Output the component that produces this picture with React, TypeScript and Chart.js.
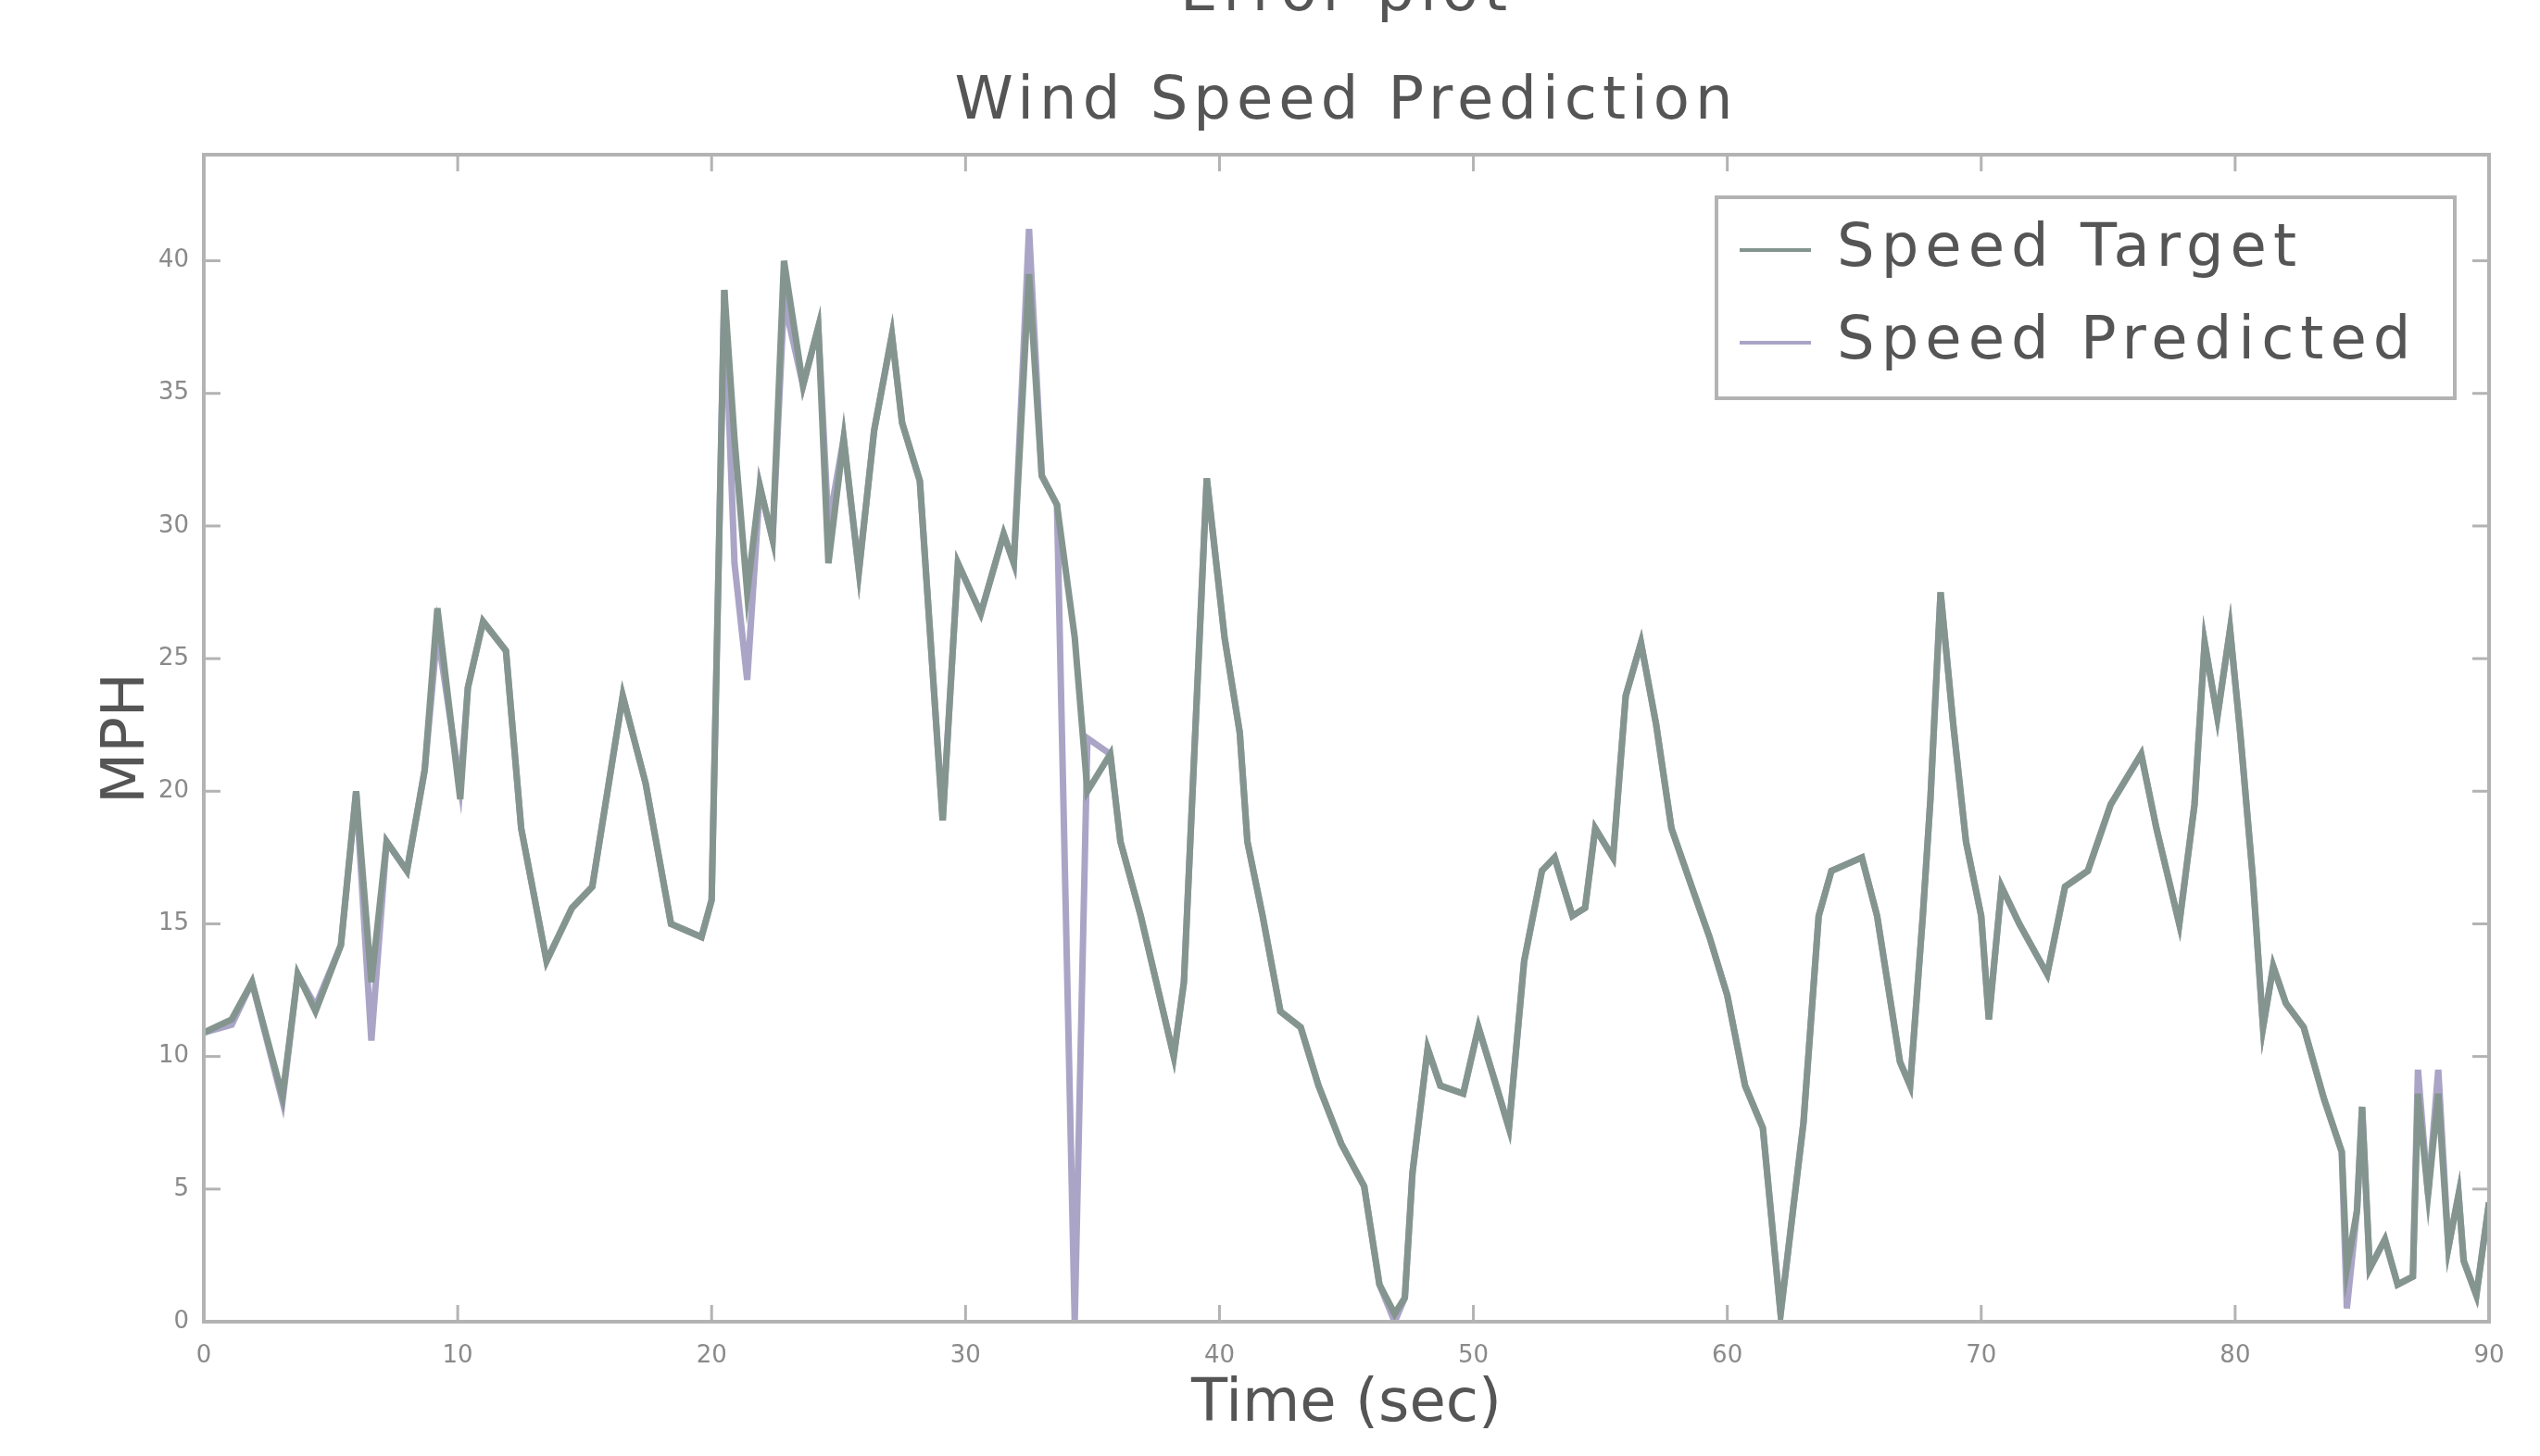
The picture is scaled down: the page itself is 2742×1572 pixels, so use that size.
import React, { useEffect, useRef } from "react";
import { Chart, registerables } from "chart.js";

Chart.register(...registerables);

// ---- data ----
const TIME = [
  0, 1.1, 1.9, 3.1, 3.7, 4.4, 5.4, 6.0, 6.6, 7.2, 8.0, 8.7, 9.2, 10.1, 10.4, 11.0, 11.9, 12.5, 13.5, 14.5,
  15.3, 16.5, 17.4, 18.4, 19.6, 20.0, 20.5, 20.9, 21.4, 21.9, 22.4, 22.85, 23.6, 24.2, 24.6, 25.2, 25.8, 26.4, 27.1, 27.5,
  28.2, 29.1, 29.7, 30.6, 31.5, 31.9, 32.5, 33.0, 33.6, 34.3, 34.8, 35.7, 36.1, 36.9, 38.2, 38.6, 39.5, 40.2, 40.8, 41.1,
  41.7, 42.4, 43.2, 43.9, 44.8, 45.7, 46.3, 46.9, 47.3, 47.6, 48.2, 48.7, 49.6, 50.2, 50.9, 51.4, 52.0, 52.7, 53.2, 53.9,
  54.4, 54.8, 55.5, 56.0, 56.6, 57.2, 57.8, 58.6, 59.3, 60.0, 60.7, 61.4, 62.1, 63.0, 63.6, 64.1, 65.3, 65.9, 66.8, 67.2,
  67.7, 68.0, 68.4, 68.9, 69.4, 70.0, 70.3, 70.8, 71.5, 72.6, 73.3, 74.2, 75.1, 76.3, 76.9, 77.8, 78.4, 78.8, 79.3, 79.8,
  80.2, 80.7, 81.1, 81.5, 82.0, 82.7, 83.5, 84.2, 84.4, 84.8, 85.0, 85.3, 85.9, 86.4, 87.0, 87.2, 87.6, 88.0, 88.4, 88.8,
  89.0, 89.5, 90.0,
];

const SPEED_TARGET = [
  10.9, 11.4, 12.8, 8.5, 13.1, 11.7, 14.2, 20.0, 12.8, 18.1, 17.0, 20.8, 26.9, 19.7, 23.9, 26.4, 25.3, 18.6, 13.6, 15.6,
  16.4, 23.6, 20.3, 15.0, 14.5, 15.9, 38.9, 33.3, 27.5, 31.5, 29.5, 40.0, 35.3, 37.5, 28.6, 33.3, 28.3, 33.6, 37.2, 33.9,
  31.7, 18.9, 28.6, 26.7, 29.7, 28.6, 39.5, 31.9, 30.8, 25.8, 20.0, 21.4, 18.1, 15.3, 10.0, 12.8, 31.8, 25.8, 22.2, 18.1,
  15.3, 11.7, 11.1, 8.9, 6.7, 5.1, 1.4, 0.3, 0.9, 5.6, 10.3, 8.9, 8.6, 11.1, 8.9, 7.3, 13.6, 17.0, 17.5, 15.3,
  15.6, 18.6, 17.5, 23.6, 25.6, 22.5, 18.6, 16.4, 14.5, 12.3, 8.9, 7.3, 0.3, 7.5, 15.3, 17.0, 17.5, 15.3, 9.8, 8.9,
  15.3, 19.7, 27.5, 22.5, 18.1, 15.3, 11.4, 16.4, 15.0, 13.1, 16.4, 17.0, 19.5, 21.4, 18.6, 15.0, 19.5, 25.6, 22.8, 26.1,
  22.2, 16.7, 11.1, 13.4, 12.0, 11.1, 8.4, 6.4, 2.0, 4.2, 8.1, 2.0, 3.1, 1.4, 1.7, 8.6, 4.8, 8.6, 2.8, 4.8,
  2.3, 1.0, 4.5,
];

const SPEED_PREDICTED = [
  10.9, 11.2, 12.8, 8.3, 13.1, 11.9, 14.2, 20.0, 10.6, 18.1, 17.0, 20.8, 26.0, 20.2, 23.9, 26.4, 25.3, 18.6, 13.6, 15.6,
  16.4, 23.6, 20.3, 15.0, 14.5, 15.9, 38.9, 28.6, 24.2, 31.5, 29.5, 38.5, 35.3, 37.5, 30.0, 33.3, 28.3, 33.6, 37.2, 33.9,
  31.7, 18.9, 28.6, 26.7, 29.7, 28.6, 41.2, 31.9, 30.8, 0.0, 22.0, 21.4, 18.1, 15.3, 10.0, 12.8, 31.8, 25.8, 22.2, 18.1,
  15.3, 11.7, 11.1, 8.9, 6.7, 5.1, 1.4, 0.0, 0.9, 5.6, 10.3, 8.9, 8.6, 11.1, 8.9, 7.3, 13.6, 17.0, 17.5, 15.3,
  15.6, 18.6, 17.5, 23.6, 25.6, 22.5, 18.6, 16.4, 14.5, 12.3, 8.9, 7.3, 0.3, 7.5, 15.3, 17.0, 17.5, 15.3, 9.8, 8.9,
  15.3, 19.7, 27.5, 22.5, 18.1, 15.3, 11.4, 16.4, 15.0, 13.1, 16.4, 17.0, 19.5, 21.4, 18.6, 15.0, 19.5, 25.6, 22.8, 26.1,
  22.2, 16.7, 11.1, 13.4, 12.0, 11.1, 8.4, 6.4, 0.5, 4.2, 8.1, 2.0, 3.1, 1.4, 1.7, 9.5, 4.8, 9.5, 2.8, 4.8,
  2.3, 1.0, 4.5,
];

const SERIES_NAMES = ["Speed Target", "Speed Predicted"];
const X_TICKS = [0, 10, 20, 30, 40, 50, 60, 70, 80, 90];
const Y_TICKS = [0, 5, 10, 15, 20, 25, 30, 35, 40];
const Y_MAX = 44;
const TITLE = "Wind Speed Prediction";
const SUPER_TITLE = "Error plot";
const X_LABEL = "Time (sec)";
const Y_LABEL = "MPH";

// ---- styles ----
const TARGET_COLOR = "#84958f";
const PREDICTED_COLOR = "#aaa5c6";
const FRAME_COLOR = "#b3b3b3";
const TEXT_COLOR = "#555555";
const FONT = "'DejaVu Sans', sans-serif";

const titlePlugin = {
  id: "customTitle",
  afterDraw(chart: any) {
    const { ctx, chartArea: a } = chart;
    const cx = (a.left + a.right) / 2;
    ctx.save();
    ctx.fillStyle = TEXT_COLOR;
    ctx.textAlign = "center";
    ctx.textBaseline = "alphabetic";
    (ctx as any).letterSpacing = "6px";
    ctx.font = `64px ${FONT}`;
    ctx.fillText(TITLE, cx, 128);
    ctx.fillText(SUPER_TITLE, cx, 11);
    ctx.restore();
  },
};

const framePlugin = {
  id: "frame",
  afterDatasetsDraw(chart: any) {
    const { ctx, chartArea: a, scales } = chart;
    ctx.save();
    ctx.strokeStyle = FRAME_COLOR;
    ctx.lineWidth = 4;
    ctx.strokeRect(a.left, a.top, a.right - a.left, a.bottom - a.top);
    ctx.lineWidth = 3;
    const L = 18;
    const seg = (x1: number, y1: number, x2: number, y2: number) => {
      ctx.beginPath();
      ctx.moveTo(x1, y1);
      ctx.lineTo(x2, y2);
      ctx.stroke();
    };
    for (const v of X_TICKS) {
      const x = scales.x.getPixelForValue(v);
      seg(x, a.bottom, x, a.bottom - L);
      seg(x, a.top, x, a.top + L);
    }
    for (const v of Y_TICKS) {
      const y = scales.y.getPixelForValue(v);
      seg(a.left, y, a.left + L, y);
      seg(a.right, y, a.right - L, y);
    }
    ctx.restore();
  },
};

const legendPlugin = {
  id: "boxLegend",
  afterDraw(chart: any) {
    const { ctx } = chart;
    const box = { x: 1853, y: 213, w: 797, h: 217 };
    ctx.save();
    ctx.fillStyle = "#ffffff";
    ctx.fillRect(box.x, box.y, box.w, box.h);
    ctx.strokeStyle = FRAME_COLOR;
    ctx.lineWidth = 4;
    ctx.strokeRect(box.x, box.y, box.w, box.h);
    const rows = [270, 370];
    chart.data.datasets.forEach((ds: any, i: number) => {
      const y = rows[i];
      ctx.strokeStyle = ds.borderColor;
      ctx.lineWidth = 4;
      ctx.beginPath();
      ctx.moveTo(1878, y);
      ctx.lineTo(1955, y);
      ctx.stroke();
      ctx.fillStyle = TEXT_COLOR;
      ctx.font = `64px ${FONT}`;
      (ctx as any).letterSpacing = "7px";
      ctx.textAlign = "left";
      ctx.textBaseline = "middle";
      ctx.fillText(ds.label, 1983, y);
    });
    ctx.restore();
  },
};

export default function App() {
  const canvasRef = useRef<HTMLCanvasElement | null>(null);

  useEffect(() => {
    document.body.style.margin = "0";
    document.body.style.overflow = "hidden";
    const canvas = canvasRef.current;
    if (!canvas) return;

    const chart = new Chart(canvas, {
      type: "line",
      data: {
        datasets: [
          {
            label: SERIES_NAMES[0],
            data: TIME.map((t, i) => ({ x: t, y: SPEED_TARGET[i] })),
            borderColor: TARGET_COLOR,
            borderWidth: 7,
            pointRadius: 0,
            tension: 0,
            fill: false,
          },
          {
            label: SERIES_NAMES[1],
            data: TIME.map((t, i) => ({ x: t, y: SPEED_PREDICTED[i] })),
            borderColor: PREDICTED_COLOR,
            borderWidth: 7,
            pointRadius: 0,
            tension: 0,
            fill: false,
          },
        ],
      },
      options: {
        responsive: false,
        animation: false,
        events: [],
        layout: { padding: { top: 167, left: 0, right: 55, bottom: 0 } },
        plugins: {
          legend: { display: false },
          title: { display: false },
          tooltip: { enabled: false },
        },
        scales: {
          x: {
            type: "linear",
            min: X_TICKS[0],
            max: X_TICKS[X_TICKS.length - 1],
            afterFit: (s: any) => {
              s.height = 145;
            },
            afterBuildTicks: (s: any) => {
              s.ticks = X_TICKS.map((v) => ({ value: v }));
            },
            grid: { display: false },
            border: { display: false },
            ticks: {
              color: "#8a8a8a",
              font: { family: FONT, size: 26 },
              padding: 14,
              maxRotation: 0,
            },
            title: {
              display: true,
              text: X_LABEL,
              color: TEXT_COLOR,
              font: { family: FONT, size: 64 },
              padding: { top: 0, bottom: 16 },
            },
          },
          y: {
            type: "linear",
            min: 0,
            max: Y_MAX,
            afterFit: (s: any) => {
              s.width = 220;
            },
            afterBuildTicks: (s: any) => {
              s.ticks = Y_TICKS.map((v) => ({ value: v }));
            },
            grid: { display: false },
            border: { display: false },
            ticks: {
              color: "#8a8a8a",
              font: { family: FONT, size: 26 },
              padding: 8,
            },
            title: {
              display: true,
              text: Y_LABEL,
              color: TEXT_COLOR,
              font: { family: FONT, size: 64 },
              padding: { top: 100, bottom: 0 },
            },
          },
        },
      },
      plugins: [framePlugin, titlePlugin, legendPlugin],
    });

    return () => chart.destroy();
  }, []);

  return (
    <div style={{ width: 2742, height: 1572, background: "#ffffff" }}>
      <canvas ref={canvasRef} width={2742} height={1572} style={{ display: "block" }} />
    </div>
  );
}
